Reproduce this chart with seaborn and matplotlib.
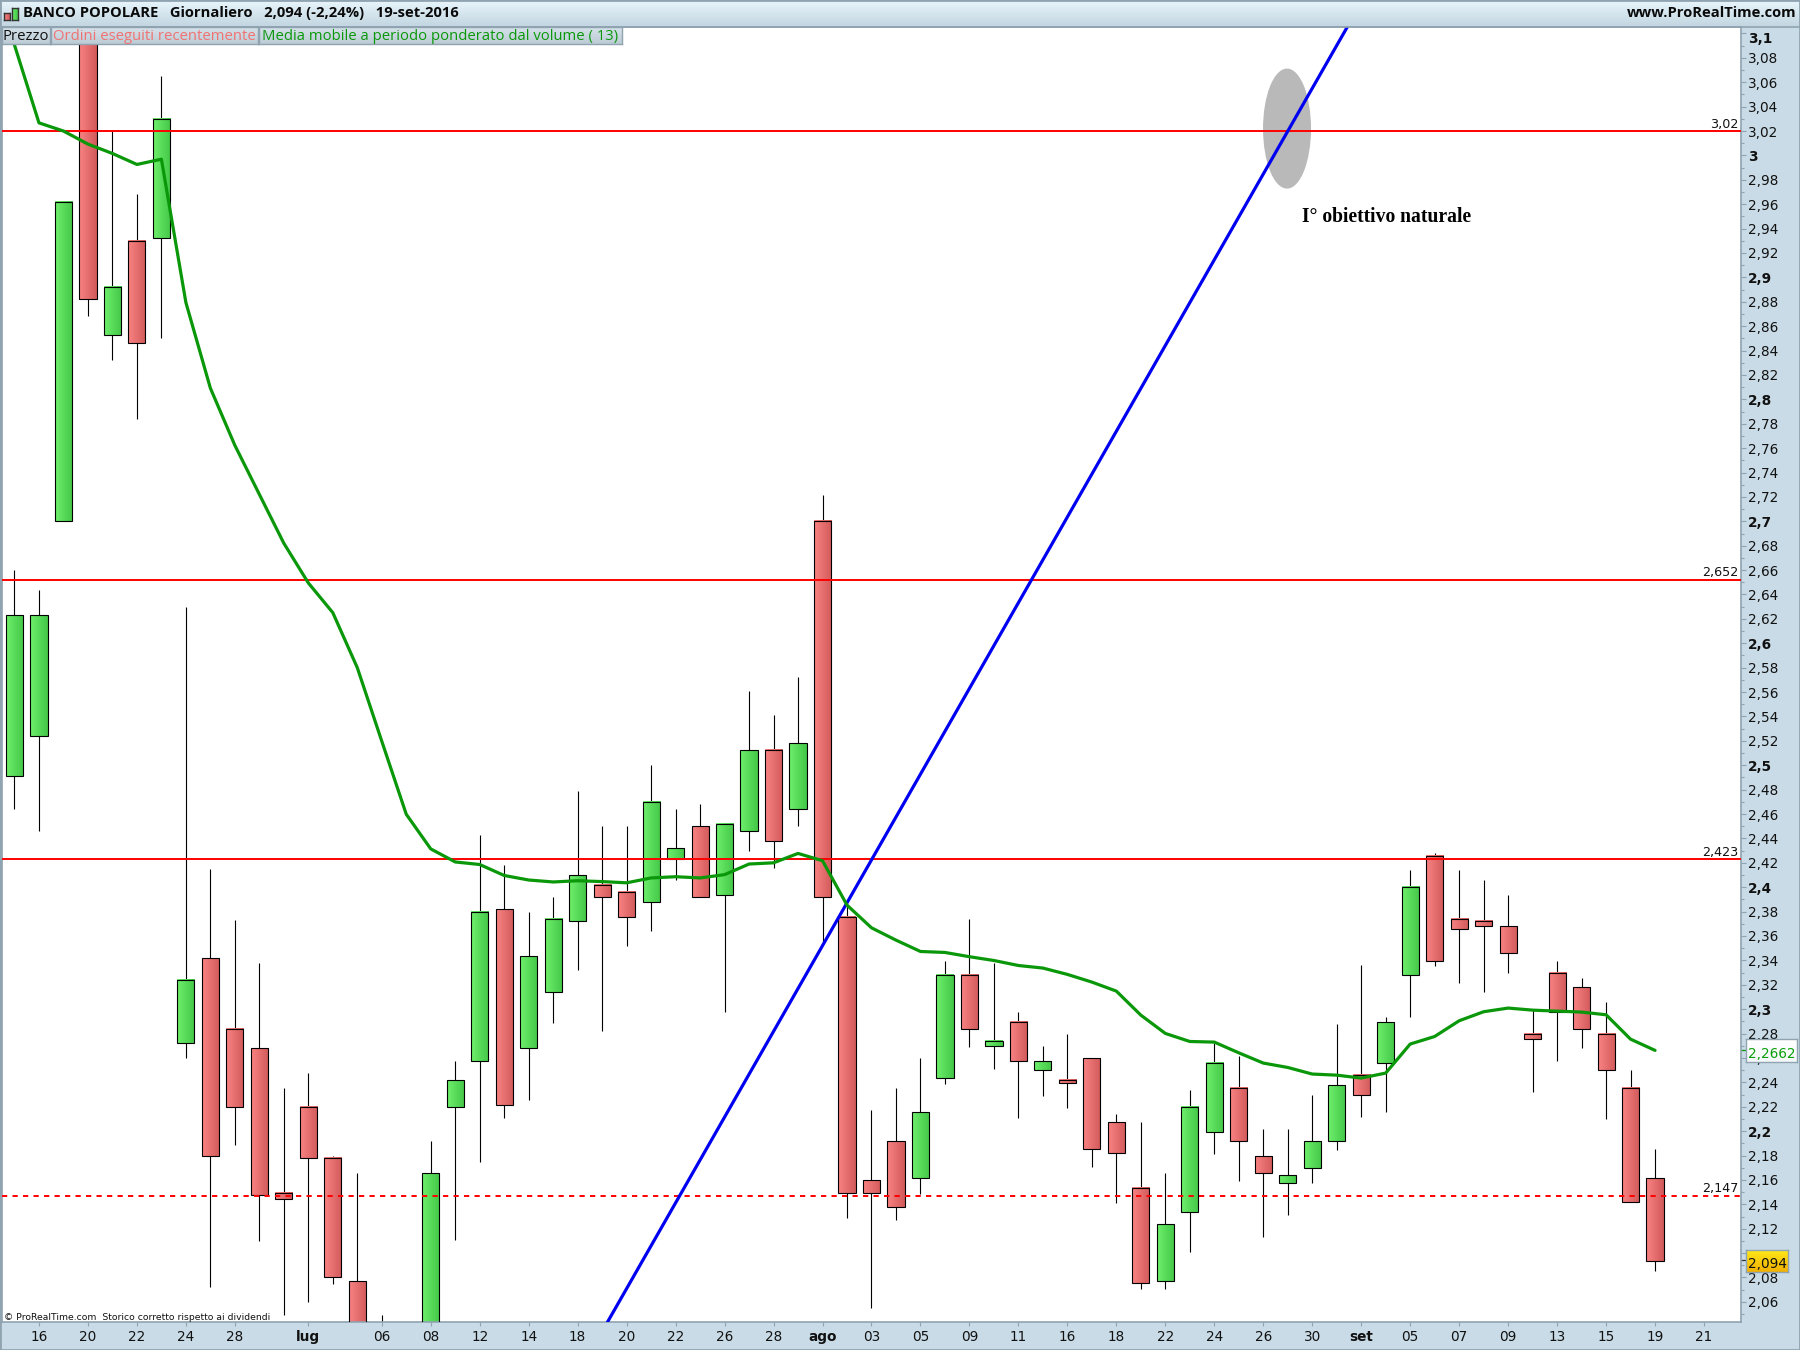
import numpy as np
import pandas as pd
import matplotlib
matplotlib.use("Agg")
import matplotlib.pyplot as plt
from matplotlib.patches import Ellipse, Rectangle
from matplotlib.transforms import ScaledTranslation
import seaborn as sns

# --- Candles (one entry per session) ---
direction = ["up", "up", "up", "down", "up", "down", "up", "up", "down", "down",
             "down", "down", "down", "down", "down", "down", "down", "up", "up", "up",
             "down", "up", "up", "up", "down", "down", "up", "up", "down", "up",
             "up", "down", "up", "down", "down", "down", "down", "up", "up", "down",
             "up", "down", "up", "down", "down", "down", "down", "up", "up", "up",
             "down", "down", "up", "up", "up", "down", "up", "up", "down", "down",
             "down", "down", "down", "down", "down", "down", "down", "down"]
body_top = [2.623, 2.623, 2.962, 3.130, 2.8925, 2.930, 3.030, 2.324, 2.342, 2.284,
            2.268, 2.1492, 2.220, 2.178, 2.077, 2.030, 2.030, 2.1656, 2.242, 2.380,
            2.382, 2.3437, 2.374, 2.410, 2.402, 2.396, 2.470, 2.432, 2.450, 2.452,
            2.5127, 2.5127, 2.5184, 2.7004, 2.3755, 2.1596, 2.1915, 2.2153, 2.3277, 2.3277,
            2.2735, 2.2891, 2.2571, 2.2416, 2.2596, 2.2071, 2.153, 2.1235, 2.2194, 2.2555,
            2.235, 2.1795, 2.1639, 2.1918, 2.2377, 2.2457, 2.2894, 2.4001, 2.4255, 2.3738,
            2.3722, 2.3681, 2.2796, 2.3296, 2.318, 2.2796, 2.2353, 2.1615]
body_bot = [2.491, 2.524, 2.700, 2.882, 2.853, 2.846, 2.932, 2.272, 2.180, 2.220,
            2.1476, 2.144, 2.178, 2.080, 2.020, 2.020, 2.020, 2.020, 2.220, 2.2577,
            2.2215, 2.2684, 2.314, 2.3725, 2.392, 2.3755, 2.388, 2.423, 2.392, 2.3935,
            2.4464, 2.438, 2.4645, 2.392, 2.149, 2.149, 2.1374, 2.1612, 2.2432, 2.2834,
            2.2694, 2.2571, 2.2498, 2.2391, 2.185, 2.1817, 2.0751, 2.0768, 2.1333, 2.1989,
            2.1915, 2.1656, 2.1574, 2.1697, 2.1918, 2.2293, 2.2558, 2.3279, 2.3394, 2.3656,
            2.3681, 2.346, 2.2755, 2.2976, 2.2837, 2.25, 2.1418, 2.0935]
wick_hi = [2.660, 2.644, 2.962, 3.150, 3.020, 2.968, 3.065, 2.630, 2.4146, 2.373,
           2.338, 2.2356, 2.248, 2.180, 2.166, 2.049, 2.030, 2.192, 2.2577, 2.4424,
           2.4186, 2.380, 2.392, 2.4786, 2.4504, 2.4504, 2.5006, 2.4645, 2.4685, 2.452,
           2.5606, 2.5408, 2.5726, 2.7212, 2.3895, 2.2172, 2.235, 2.2599, 2.3394, 2.3738,
           2.3378, 2.2976, 2.2697, 2.2796, 2.2596, 2.214, 2.2074, 2.1656, 2.2336, 2.2719,
           2.2615, 2.2017, 2.2019, 2.2298, 2.288, 2.3364, 2.2938, 2.4143, 2.4279, 2.4143,
           2.4061, 2.3938, 2.2995, 2.3397, 2.3257, 2.306, 2.2503, 2.1855]
wick_lo = [2.464, 2.446, 2.700, 2.868, 2.832, 2.784, 2.850, 2.260, 2.072, 2.189,
           2.110, 2.049, 2.060, 2.075, 2.020, 2.010, 2.010, 2.010, 2.111, 2.1746,
           2.211, 2.2255, 2.289, 2.332, 2.282, 2.352, 2.364, 2.4056, 2.392, 2.2975,
           2.4297, 2.4156, 2.4498, 2.3544, 2.129, 2.055, 2.127, 2.1486, 2.2388, 2.2692,
           2.2511, 2.211, 2.229, 2.2192, 2.1708, 2.1413, 2.0707, 2.0707, 2.1011, 2.1812,
           2.1593, 2.1128, 2.1309, 2.1571, 2.1847, 2.2112, 2.2153, 2.2932, 2.3358, 2.3211,
           2.3137, 2.3293, 2.2317, 2.2571, 2.2678, 2.2096, 2.1418, 2.085]

# --- Media mobile ponderata (13) ---
vwma = [3.0905, 3.0267, 3.020, 3.0093, 3.0016, 2.9926, 2.9969, 2.8794, 2.8092, 2.7623,
        2.7221, 2.682, 2.6495, 2.6251, 2.580, 2.5197, 2.4598, 2.4314, 2.4207, 2.4186,
        2.4096, 2.4059, 2.4043, 2.4053, 2.4046, 2.4036, 2.4076, 2.4086, 2.4076, 2.4103,
        2.419, 2.420, 2.4277, 2.4217, 2.3853, 2.3667, 2.3566, 2.3473, 2.3465, 2.343,
        2.3399, 2.3358, 2.3337, 2.3285, 2.3222, 2.3148, 2.2951, 2.2801, 2.2735, 2.273,
        2.2642, 2.2558, 2.2522, 2.2468, 2.2459, 2.2435, 2.2476, 2.2714, 2.2776, 2.2905,
        2.2979, 2.3009, 2.2992, 2.2984, 2.2976, 2.2954, 2.2754, 2.2662]

# --- Drawn objects on the chart ---
solid_levels = [3.02, 2.652, 2.423]
dashed_levels = [2.147]
level_labels = ["3,02", "2,652", "2,423", "2,147"]
trend_k = [24.22, 54.43]
trend_v = [2.0435, 3.1053]

# --- Axis ticks ---
date_pos = [1, 3, 5, 7, 9, 12, 15, 17, 19, 21, 23, 25, 27, 29, 31, 33, 35, 37, 39, 41,
            43, 45, 47, 49, 51, 53, 55, 57, 59, 61, 63, 65, 67, 69]
date_labels = ["16", "20", "22", "24", "28", "lug", "06", "08", "12", "14", "18", "20",
               "22", "26", "28", "ago", "03", "05", "09", "11", "16", "18", "22", "24",
               "26", "30", "set", "05", "07", "09", "13", "15", "19", "21"]
month_labels = ["lug", "ago", "set"]

# --- Colours ---
BG = "#c9dbe6"
EDGE = "#8fa3b0"
GREEN_GRAD = ("#6ef06c", "#44c648")
RED_GRAD = ("#f98282", "#d25a5a")
MA_GREEN = "#0a980a"

W, H = 1800, 1350
sns.set_theme(style="white")
plt.rcParams["font.family"] = ["DejaVu Sans"]

fig = plt.figure(figsize=(W / 100, H / 100), dpi=100, facecolor=BG)


def px_rect(x0, y0, x1, y1):
    return [x0 / W, 1 - y1 / H, (x1 - x0) / W, (y1 - y0) / H]


def fig_text(x, y, s, **kw):
    kw.setdefault("va", "center")
    return fig.text(x / W, 1 - y / H, s, **kw)


def gradient_box(x0, y0, x1, y1, c0, c1, vertical=True, edge=None, z=10):
    # small throwaway axes, only used to paint a gradient panel
    box = fig.add_axes(px_rect(x0, y0, x1, y1), zorder=z)
    cmap = matplotlib.colors.LinearSegmentedColormap.from_list("g", [c0, c1])
    grad = np.linspace(0, 1, 64).reshape(-1, 1) if vertical else np.linspace(0, 1, 64).reshape(1, -1)
    box.imshow(grad, cmap=cmap, aspect="auto", vmin=0, vmax=1)
    box.set_xticks([])
    box.set_yticks([])
    for sp in box.spines.values():
        sp.set_visible(edge is not None)
        if edge is not None:
            sp.set_color(edge)
            sp.set_linewidth(1.0)
    return box


# --- Main panel ---
ax = fig.add_axes(px_rect(2, 27, 1741, 1322), facecolor="white", zorder=5)
candles = pd.DataFrame({"k": np.arange(len(direction)), "direction": direction,
                        "top": body_top, "bot": body_bot, "hi": wick_hi, "lo": wick_lo})
candles["height"] = candles["top"] - candles["bot"]

ax.vlines(candles["k"], candles["lo"], candles["hi"], color="black", lw=0.8, zorder=1)

for name, grad_cols in [("up", GREEN_GRAD), ("down", RED_GRAD)]:
    part = candles[candles["direction"] == name]
    before = len(ax.patches)
    sns.barplot(data=part, x="k", y="height", bottom=part["bot"].values, native_scale=True,
                width=0.7, color=grad_cols[0], errorbar=None, ax=ax, saturation=1,
                edgecolor="black", linewidth=0.8, zorder=3)
    cmap = matplotlib.colors.LinearSegmentedColormap.from_list(name, grad_cols)
    for bar in ax.patches[before:]:
        bar.set_facecolor("none")
        ax.imshow(np.linspace(0, 1, 32).reshape(1, -1), cmap=cmap, aspect="auto", zorder=2,
                  extent=(bar.get_x(), bar.get_x() + bar.get_width(),
                          bar.get_y(), bar.get_y() + bar.get_height()))

ax.add_patch(Ellipse((51.97, 3.022), 1.96, 0.0984, facecolor="#b9b9b9", edgecolor="none", zorder=3.5))

for lev in solid_levels:
    ax.axhline(lev, color="#ff0000", lw=1.4, zorder=4)
for lev in dashed_levels:
    ax.axhline(lev, color="#ff0000", lw=1.4, ls=(0, (2.7, 2.7)), zorder=4)

ax.plot(trend_k, trend_v, color="#0000f0", lw=2.3, zorder=5)
sns.lineplot(x=candles["k"], y=vwma, color=MA_GREEN, lw=2.3, ax=ax, zorder=6, errorbar=None)

ax.set_xlim(-0.51, 70.51)
ax.set_ylim(2.0435, 3.1053)
ax.set_xlabel("")
ax.set_ylabel("")

# --- Axes ---
major_y = np.round(np.arange(2.06, 3.101, 0.02), 2)
minor_y = np.round(np.arange(2.05, 3.10, 0.02), 2)
ax.yaxis.tick_right()
ax.set_yticks(major_y)
ax.set_yticks(minor_y, minor=True)
# the 2,10 label sits behind the yellow price tag in the original
ylabels = ["" if v == 2.1 else f"{v:g}".replace(".", ",") for v in major_y]
ax.set_yticklabels(ylabels)
ax.set_xticks(date_pos)
ax.set_xticklabels(date_labels)
ax.tick_params(axis="y", which="major", length=3.5, width=0.8, color=EDGE, pad=1.5, labelsize=9.8, labelcolor="#111111")
ax.tick_params(axis="y", which="minor", length=2, width=0.8, color=EDGE)
ax.tick_params(axis="x", which="major", length=3, width=0.8, color=EDGE, pad=2.5, labelsize=9.8, labelcolor="#111111", bottom=True)
for lab, v in zip(ax.get_yticklabels(), major_y):
    if abs(v * 10 - round(v * 10)) < 1e-6:
        lab.set_fontweight("bold")
    if v > 3.09:
        lab.set_transform(lab.get_transform() + ScaledTranslation(0, -4.5 / 100, fig.dpi_scale_trans))
for lab in ax.get_xticklabels():
    if lab.get_text() in month_labels:
        lab.set_fontweight("bold")
for sp in ax.spines.values():
    sp.set_color(EDGE)
    sp.set_linewidth(1.2)

# small price labels over the horizontal lines
for lev, txt in zip(solid_levels + dashed_levels, level_labels):
    ax.annotate(txt, (1, lev), xycoords=("axes fraction", "data"), xytext=(-2, 0.3),
                textcoords="offset points", ha="right", va="bottom", fontsize=9.2,
                color="#111111", zorder=8)

fig_text(1302, 217, "I° obiettivo naturale", fontsize=14.1, fontweight="bold",
         family="Liberation Serif", color="black", zorder=20, ha="left")
fig_text(4, 1317, "© ProRealTime.com  Storico corretto rispetto ai dividendi", fontsize=6.7,
         color="#111111", zorder=20, ha="left")

# small ticks of the two live values
ax.plot([1, 1.003], [vwma[-1]] * 2, color=MA_GREEN, lw=0.9, transform=ax.get_yaxis_transform(), clip_on=False)
ax.plot([1, 1.003], [2.094] * 2, color="#333333", lw=0.9, transform=ax.get_yaxis_transform(), clip_on=False)

# --- Header ---
gradient_box(0, 0, W, 26, "#e9f6fc", "#c3d6e1")
fig.add_artist(plt.Line2D([0, 1], [1 - 26.5 / H] * 2, color=EDGE, lw=1.2, zorder=11))
fig_text(23, 13, "BANCO POPOLARE   Giornaliero   2,094 (-2,24%)   19-set-2016", fontsize=10.6,
         fontweight="bold", family="Open Sans", color="#0a0a0a", zorder=20, ha="left")
fig_text(1796, 13, "www.ProRealTime.com", fontsize=10.6, fontweight="bold", family="Open Sans",
         color="#0a0a0a", zorder=20, ha="right")
gradient_box(4, 13, 10, 20, "#f98282", "#d25a5a", vertical=False, edge="#333333", z=12)
gradient_box(12, 8, 18, 20, "#6ef06c", "#44c648", vertical=False, edge="#333333", z=12)

# --- Legend strip ---
legend_boxes = [(2, 50, "Prezzo", "#111111"),
                (51, 258, "Ordini eseguiti recentemente", "#f07272"),
                (259, 622, "Media mobile a periodo ponderato dal volume ( 13)", MA_GREEN)]
for x0, x1, label, col in legend_boxes:
    gradient_box(x0, 27, x1, 44, "#d6e2ea", "#bccbd5", edge=EDGE, z=14)
    fig_text((x0 + x1) / 2, 36, label, fontsize=10.7, color=col, zorder=20, ha="center", family="Open Sans")

# --- Value tags on the right scale ---
gradient_box(1746, 1039, 1797, 1062, "#ffffff", "#f4f8fa", edge=EDGE, z=16)
fig_text(1748, 1053.5, "2,2662", fontsize=9.8, color="#0aa00a", zorder=20, ha="left")
gradient_box(1746, 1250, 1788, 1272, "#ffe81a", "#f2b000", edge=EDGE, z=16)
fig_text(1748, 1264.5, "2,094", fontsize=9.8, color="#111111", zorder=20, ha="left")

# outer frame
fig.add_artist(Rectangle((0, 0), 1, 1, transform=fig.transFigure, fill=False, edgecolor=EDGE, lw=2.0, zorder=30))

fig.savefig("out.png", dpi=100, facecolor=fig.get_facecolor())
